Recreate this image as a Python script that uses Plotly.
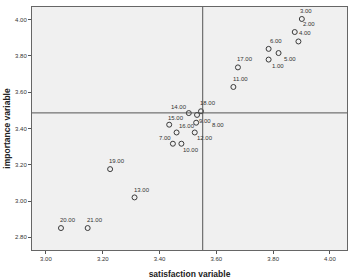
import plotly.graph_objects as go

case_ids = [1, 2, 3, 4, 5, 6, 7, 8, 9, 10, 11, 12, 13, 14, 15, 16, 17, 18, 19, 20, 21]
satisfaction = [3.784, 3.876, 3.901, 3.889, 3.819, 3.784, 3.447, 3.529, 3.532, 3.477, 3.660,
                3.524, 3.312, 3.503, 3.434, 3.460, 3.676, 3.546, 3.226, 3.053, 3.147]
importance = [3.780, 3.932, 4.004, 3.880, 3.816, 3.839, 3.316, 3.432, 3.475, 3.316, 3.629,
              3.378, 3.020, 3.485, 3.421, 3.378, 3.737, 3.495, 3.176, 2.851, 2.851]
ref_x = 3.552
ref_y = 3.486
x_ticks = [3.0, 3.2, 3.4, 3.6, 3.8, 4.0]
y_ticks = [2.8, 3.0, 3.2, 3.4, 3.6, 3.8, 4.0]

# label placement offsets in screen pixels (dx right, dy down)
label_offsets = [(9, 6), (14, -8), (4, -8), (7, -8), (11, 6), (7, -8), (-8, -6), (22, 2),
                 (8, 6), (10, 6), (7, -8), (10, 6), (7, -7), (-10, -6), (7, -7), (10, -6),
                 (7, -8), (7, -8), (7, -8), (7, -8), (7, -8)]

font = "Liberation Sans, Arial, sans-serif"

fig = go.Figure()
fig.add_trace(go.Scatter(
    x=satisfaction, y=importance, mode="markers",
    marker=dict(symbol="circle-open", size=5, color="#3a3a3a", line=dict(width=1)),
    hoverinfo="skip", showlegend=False,
))

for cid, xv, yv, (dx, dy) in zip(case_ids, satisfaction, importance, label_offsets):
    fig.add_annotation(x=xv, y=yv, text=f"{cid:.2f}", showarrow=False,
                       xshift=dx, yshift=-dy,
                       font=dict(family=font, size=6, color="#333333"))

fig.add_shape(type="line", xref="x", yref="paper", x0=ref_x, x1=ref_x, y0=0, y1=1,
              line=dict(color="#555555", width=1))
fig.add_shape(type="line", xref="paper", yref="y", x0=0, x1=1, y0=ref_y, y1=ref_y,
              line=dict(color="#555555", width=1))

fig.update_layout(
    width=349, height=279,
    margin=dict(l=32, r=1, t=7, b=23),
    paper_bgcolor="white", plot_bgcolor="#f0f0f0",
    font=dict(family=font, size=6, color="#333333"),
)
fig.update_xaxes(
    range=[2.951, 4.06], tickvals=x_ticks, ticktext=[f"{v:.2f}" for v in x_ticks],
    ticks="outside", ticklen=3, tickcolor="#555555", showgrid=False, zeroline=False,
    showline=True, linecolor="#666666", linewidth=1, mirror=True,
    title=dict(text="<b>satisfaction variable</b>", font=dict(size=8.5, color="#222222"), standoff=10),
)
fig.update_yaxes(
    range=[2.73, 4.07], tickvals=y_ticks, ticktext=[f"{v:.2f}" for v in y_ticks],
    ticks="outside", ticklen=3, tickcolor="#555555", showgrid=False, zeroline=False,
    showline=True, linecolor="#666666", linewidth=1, mirror=True,
    title=dict(text="<b>importance variable</b>", font=dict(size=8.5, color="#222222"), standoff=3),
)

fig.write_html("out.html")
